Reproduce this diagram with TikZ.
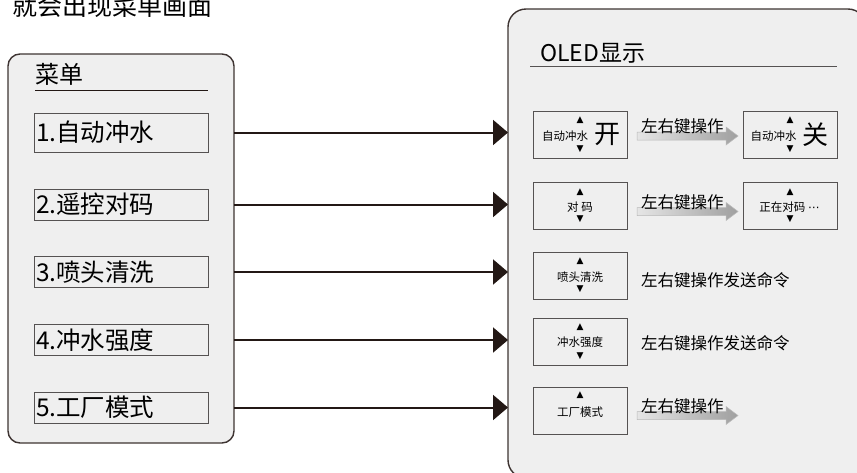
\documentclass[tikz,border=0pt]{standalone}
\usepackage{fontspec}
\setmainfont{Noto Sans CJK SC}
\newfontfamily\trifont{DejaVu Sans}
\usetikzlibrary{arrows.meta,calc}
\definecolor{PanelGray}{RGB}{239,239,239}
\definecolor{PanelLine}{RGB}{62,52,50}
\definecolor{BoxLine}{RGB}{85,82,82}
\definecolor{ArrowInk}{RGB}{35,24,21}
\newcommand{\grayarrow}[3]{%
  \shade[left color=gray!20,right color=gray!75,draw=gray!55,line width=0.5pt]
    ($(#1)+(0,-4)$) -- ($(#2)+(-12,-4)$) -- ($(#2)+(-12,-9)$) -- (#2)
    -- ($(#2)+(-12,9)$) -- ($(#2)+(-12,4)$) -- ($(#1)+(0,4)$) -- cycle;
  \node[keylabel,anchor=base] at ($(#1)!0.45!(#2)+(0,-3.5)$) {#3};}

\begin{document}
\begin{tikzpicture}[x=1pt,y=-1pt,>=Latex,
  panel/.style={draw=PanelLine,line width=1.4pt,fill=PanelGray,inner sep=0pt,outer sep=0pt},
  menuitem/.style={draw=BoxLine,line width=0.9pt,minimum height=31pt,text width=170pt,inner xsep=2pt,inner ysep=0pt,align=left,outer sep=0pt,font=\fontsize{24.5}{26}\selectfont},
  oledbox/.style={draw=BoxLine,line width=0.9pt,minimum width=94pt,minimum height=47pt,inner sep=0pt,outer sep=0pt},
  small/.style={inner sep=0pt,font=\fontsize{11.5}{12}\selectfont},
  tri/.style={inner sep=0pt,font=\trifont\fontsize{9}{9}\selectfont},
  big/.style={inner sep=0pt,font=\fontsize{26}{28}\selectfont},
  keylabel/.style={inner sep=0pt,font=\fontsize{16.5}{18}\selectfont},
  conn/.style={->,draw=ArrowInk,line width=2pt,-{Triangle[length=15pt,width=25pt]}}]
\useasboundingbox (0,0) rectangle (857,472);
\node[anchor=base west,inner sep=0pt,font=\fontsize{25}{27}\selectfont] (title) at (12,15) {就会出现菜单画面};

\node[panel,rounded corners=12pt,minimum width=226pt,minimum height=389pt] (menu) at (121,248.5) {};
\node[panel,rounded corners=18pt,minimum width=358pt,minimum height=469pt] (oled) at (687,243.5) {};

\node[anchor=base west,inner sep=0pt,font=\fontsize{24}{26}\selectfont] (menutitle) at (35,83) {菜单};
\draw[draw=ArrowInk,line width=0.9pt] (35,90) -- (208,90);
\node[menuitem,minimum height=39pt] (m1) at (121,132.5) {1.自动冲水};
\node[menuitem] (m2) at (121,204.5) {2.遥控对码};
\node[menuitem] (m3) at (121,272) {3.喷头清洗};
\node[menuitem] (m4) at (121,340) {4.冲水强度};
\node[menuitem] (m5) at (121,407.5) {5.工厂模式};

\node[anchor=base west,inner sep=0pt,font=\fontsize{23}{25}\selectfont] (oledtitle) at (540,61) {OLED显示};
\draw[draw=BoxLine,line width=0.9pt] (530,66) -- (837,66);

\node[oledbox] (o1) at (580,134.5) {};
\node[small] at (565,136) {自动冲水};
\node[tri] at (580,120) {▲};
\node[tri] at (580,149) {▼};
\node[big] at (607,135) {开};
\node[oledbox] (p1) at (790,134.5) {};
\node[small] at (773.5,136) {自动冲水};
\node[tri] at (790,120) {▲};
\node[tri] at (790,149) {▼};
\node[big] at (815,135) {关};

\node[oledbox] (o2) at (580,205.5) {};
\node[tri] at (580,192) {▲};
\node[small] at (580,207) {对 码};
\node[tri] at (580,219) {▼};
\node[oledbox] (p2) at (790,205.5) {};
\node[tri] at (790,192) {▲};
\node[small] at (789.5,207) {正在对码 {\trifont ⋯}};
\node[tri] at (790,219) {▼};

\node[oledbox] (o3) at (580,275.5) {};
\node[tri] at (580,261) {▲};
\node[small] at (580,277) {喷头清洗};
\node[tri] at (580,289) {▼};
\node[keylabel,anchor=west] at (641,280) {左右键操作发送命令};

\node[oledbox] (o4) at (580,341.5) {};
\node[tri] at (580,327) {▲};
\node[small] at (580,342) {冲水强度};
\node[tri] at (580,356) {▼};
\node[keylabel,anchor=west] at (641,343) {左右键操作发送命令};

\node[oledbox] (o5) at (580,410.5) {};
\node[tri] at (580,395) {▲};
\node[small] at (580,412) {工厂模式};
\coordinate (e5) at (738,415.5);

\coordinate (s1) at ($(o1.east)+(10,1.5)$);
\coordinate (e1) at ($(p1.west)+(-5,1.5)$);
\coordinate (s2) at ($(o2.east)+(10,6)$);
\coordinate (e2) at ($(p2.west)+(-5,6)$);
\coordinate (s5) at ($(o5.east)+(10,5)$);
\grayarrow{s1}{e1}{左右键操作}
\grayarrow{s2}{e2}{左右键操作}
\grayarrow{s5}{e5}{左右键操作}

\foreach \i in {1,...,5}
  \draw[conn] (m\i -| menu.east) -- (m\i -| oled.west);
\end{tikzpicture}
\end{document}
